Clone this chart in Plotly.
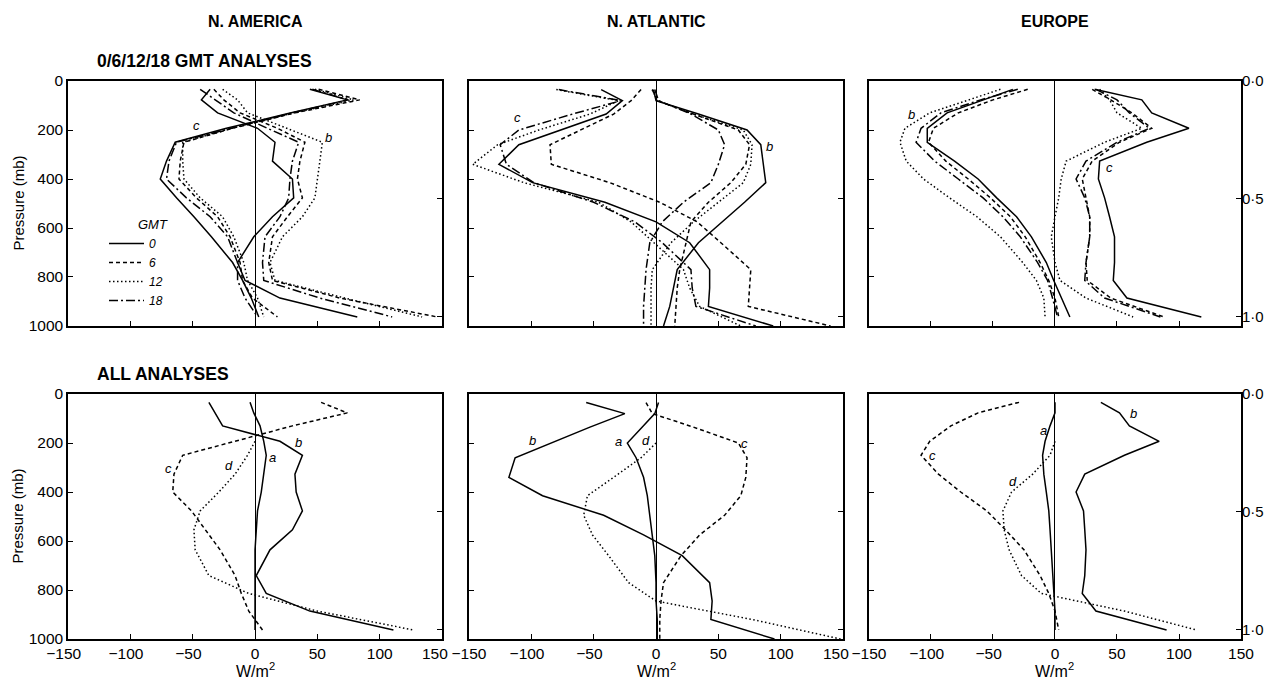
import plotly.graph_objects as go

# ---------------- data ----------------
# pressure (mb) of the model levels over land (surface ~963 mb) and ocean (~1000 mb)
P_LAND = [34, 77, 130, 193, 250, 327, 400, 477, 554, 636, 741, 814, 886, 963]
P_OCEAN = [35, 80, 135, 200, 260, 340, 415, 495, 575, 660, 770, 845, 920, 1000]

REGIONS = ["N. AMERICA", "N. ATLANTIC", "EUROPE"]
ROW_TITLES = ["0/6/12/18 GMT ANALYSES", "ALL ANALYSES"]
GMT_TIMES = ["0", "6", "12", "18"]
X_TICKS = [-150, -100, -50, 0, 50, 100, 150]
X_TICK_LABELS = ["−150", "−100", "−50", "0", "50", "100", "150"]
P_TICKS = [0, 200, 400, 600, 800, 1000]
SIGMA_TICKS = [0.0, 0.5, 1.0]
SIGMA_LABELS = ["0·0", "0·5", "1·0"]

# ---- top row: separate analysis times (curves b and c for each GMT) ----
NA_B_00 = [-36, -43, -30, 2, 16, 14, 30, 31, 14, -1, -14, -8, 20, 82]
NA_B_06 = [-33, -25, -12, 18, 40, 36, 34, 38, 26, 14, 11, 14, 68, 146]
NA_B_12 = [-26, -14, -6, 26, 54, 52, 50, 48, 38, 22, 12, 16, 72, 134]
NA_B_18 = [-44, -32, -17, 10, 35, 30, 28, 27, 20, 8, 6, 7, 52, 110]
NA_C_00 = [44, 74, 29, -23, -64, -71, -76, -63, -49, -35, -18, -10, -3, 3]
NA_C_06 = [51, 84, 32, -18, -57, -60, -61, -47, -30, -20, -12, -10, -2, 18]
NA_C_12 = [48, 79, 31, -19, -58, -58, -57, -44, -26, -17, -9, -6, 2, 7]
NA_C_18 = [46, 75, 30, -20, -63, -69, -71, -55, -36, -22, -14, -14, -8, 2]

NATL_B_00 = [-2, 0, 34, 73, 84, 86, 88, 71, 53, 34, 17, 14, 11, 6]
NATL_B_06 = [-3, 1, 30, 66, 75, 72, 60, 42, 28, 24, 19, 17, 16, 15]
NATL_B_12 = [-3, 1, 30, 70, 77, 76, 70, 50, 30, 12, -3, -4, -4, -4]
NATL_B_18 = [-1, 2, 28, 50, 55, 50, 44, 22, 5, -5, -8, -9, -10, -10]
NATL_C_00 = [-44, -27, -40, -76, -110, -126, -99, -41, 0, 27, 43, 43, 42, 94]
NATL_C_06 = [-12, -20, -34, -61, -85, -84, -37, 3, 33, 52, 76, 75, 74, 140]
NATL_C_12 = [-80, -30, -53, -94, -127, -147, -106, -46, -20, -2, 22, 27, 35, 68]
NATL_C_18 = [-78, -28, -67, -110, -125, -120, -98, -50, -17, 5, 28, 29, 32, 80]

EU_B_00 = [-34, -58, -87, -103, -103, -81, -62, -47, -31, -19, -7, -1, 5, 12]
EU_B_06 = [-22, -50, -78, -98, -102, -88, -70, -52, -36, -24, -12, -5, 0, 3]
EU_B_12 = [-44, -69, -101, -121, -125, -120, -106, -85, -63, -44, -26, -15, -9, -8]
EU_B_18 = [-30, -60, -92, -108, -112, -97, -78, -58, -42, -28, -14, -6, -2, 2]
EU_C_00 = [32, 70, 78, 108, 74, 36, 35, 40, 44, 48, 48, 47, 58, 118]
EU_C_06 = [30, 45, 62, 78, 52, 30, 22, 25, 28, 28, 25, 26, 45, 88]
EU_C_12 = [36, 44, 50, 70, 40, 9, 5, 3, 0, -3, 0, 4, 25, 63]
EU_C_18 = [33, 50, 60, 76, 50, 25, 17, 24, 28, 28, 25, 24, 40, 85]

# ---- bottom row: all analyses (curves a, b, c, d) ----
NA_ALL_A = [-4, -1, 4, 7, 9, 7, 5, 2, 1, 0, 0, 0, 0, 0]
NA_ALL_B = [-37, -32, -26, 20, 38, 32, 33, 38, 30, 12, 1, 9, 44, 111]
NA_ALL_C = [53, 74, 30, -16, -58, -65, -66, -51, -40, -28, -16, -11, -5, 6]
NA_ALL_D = [None, None, None, 0, -6, -16, -29, -44, -49, -48, -37, -5, 50, 127]

NATL_ALL_A = [2, -1, -11, -23, -16, -10, -7, -5, -3, -1, 0, 0, 1, 1]
NATL_ALL_B = [-56, -25, -53, -85, -113, -118, -91, -42, -10, 21, 43, 45, 44, 95]
NATL_ALL_C = [-8, -3, 30, 66, 73, 72, 68, 55, 35, 20, 6, 4, 3, 3]
NATL_ALL_D = [None, None, None, 0, -12, -34, -55, -58, -51, -38, -22, 0, 77, 148]

EU_ALL_A = [0, 0, -4, -8, -10, -9, -7, -5, -4, -3, -2, -1, 0, 0]
EU_ALL_B = [37, 52, 60, 84, 56, 24, 17, 23, 24, 25, 24, 22, 33, 90]
EU_ALL_C = [-29, -62, -84, -101, -108, -94, -76, -55, -40, -25, -12, -5, 0, 3]
EU_ALL_D = [None, None, None, 0, -4, -18, -35, -42, -41, -37, -27, -11, 56, 114]

# curve letter labels: (panel, letter, x value, pressure)
LABELS = [
    (0, "c", -47, 180), (0, "b", 59, 229),
    (1, "c", -111, 151), (1, "b", 91, 269),
    (2, "b", -116, 135), (2, "c", 44, 355),
    (3, "b", 35, 196), (3, "a", 14, 261), (3, "c", -69, 306), (3, "d", -21, 290),
    (4, "b", -99, 188), (4, "a", -30, 192), (4, "d", -8, 188), (4, "c", 71, 200),
    (5, "b", 63, 78), (5, "a", -9, 147), (5, "c", -99, 249), (5, "d", -34, 359),
]

# ---------------- styling ----------------
FONT = "Liberation Sans"
NBSP = "\u00a0"
DASH_GMT = {"0": "solid", "6": "4px,3px", "12": "1.5px,2.5px", "18": "9px,3px,2px,3px"}
DASH_ALL = {"a": "solid", "b": "solid", "c": "4px,3px", "d": "1.5px,2.5px"}
XDOM = [[0.0535, 0.3478], [0.3690, 0.6633], [0.6837, 0.9764]]
YDOM = [[0.5227, 0.8814], [0.0644, 0.4231]]
W, H = 1271, 683

top_series = [
    (0, P_LAND, [NA_B_00, NA_B_06, NA_B_12, NA_B_18], [NA_C_00, NA_C_06, NA_C_12, NA_C_18]),
    (1, P_OCEAN, [NATL_B_00, NATL_B_06, NATL_B_12, NATL_B_18], [NATL_C_00, NATL_C_06, NATL_C_12, NATL_C_18]),
    (2, P_LAND, [EU_B_00, EU_B_06, EU_B_12, EU_B_18], [EU_C_00, EU_C_06, EU_C_12, EU_C_18]),
]
bottom_series = [
    (3, P_LAND, {"a": NA_ALL_A, "b": NA_ALL_B, "c": NA_ALL_C, "d": NA_ALL_D}),
    (4, P_OCEAN, {"a": NATL_ALL_A, "b": NATL_ALL_B, "c": NATL_ALL_C, "d": NATL_ALL_D}),
    (5, P_LAND, {"a": EU_ALL_A, "b": EU_ALL_B, "c": EU_ALL_C, "d": EU_ALL_D}),
]

fig = go.Figure()

for k, levels, bset, cset in top_series:
    for i, gmt in enumerate(GMT_TIMES):
        for j, xs in enumerate((cset[i], bset[i])):
            fig.add_trace(go.Scatter(
                x=xs, y=levels, mode="lines",
                line=dict(color="black", width=1.5, dash=DASH_GMT[gmt]),
                xaxis=f"x{k+1}", yaxis=f"y{k+1}",
                name=gmt, legendgroup=gmt,
                showlegend=(k == 0 and j == 0),
                hoverinfo="skip",
            ))

for k, levels, curves in bottom_series:
    for letter, xs in curves.items():
        fig.add_trace(go.Scatter(
            x=xs, y=levels, mode="lines",
            line=dict(color="black", width=1.5, dash=DASH_ALL[letter]),
            xaxis=f"x{k+1}", yaxis=f"y{k+1}",
            showlegend=False, hoverinfo="skip",
        ))

# invisible helper traces so the sigma axes are drawn
for k in range(6):
    fig.add_trace(go.Scatter(x=[None], y=[None], xaxis=f"x{k+1}", yaxis=f"y{k+7}",
                             showlegend=False, hoverinfo="skip"))

layout = dict(
    width=W, height=H,
    margin=dict(l=0, r=0, t=0, b=0),
    paper_bgcolor="white", plot_bgcolor="white",
    font=dict(family=FONT, color="black", size=15),
    showlegend=True,
    legend=dict(
        x=104 / W, y=1 - 229 / H, xanchor="left", yanchor="top",
        bgcolor="rgba(0,0,0,0)", borderwidth=0,
        font=dict(family=FONT, size=12, style="italic"),
        tracegroupgap=0, itemwidth=35,
    ),
)

tick_font = dict(family=FONT, size=15.5, color="black")
sigma_font = dict(family=FONT, size=15, color="black")


def x_ticks(col):
    """Tick values/texts; the '150' at a panel join is drawn as a separate text."""
    vals, labels = [], []
    for v, t in zip(X_TICKS, X_TICK_LABELS):
        if v == 150 and col < 2:
            continue
        if v < 0 and not (v == -150 and col > 0):
            t = t + NBSP * 2
        vals.append(v)
        labels.append(t)
    return vals, labels


for k in range(6):
    r, c = divmod(k, 3)
    tv, tt = x_ticks(c)
    layout[f"xaxis{k+1}"] = dict(
        domain=XDOM[c], anchor=f"y{k+1}", range=[-150, 150],
        tickmode="array", tickvals=tv, ticktext=tt,
        ticks="inside", ticklen=5, tickwidth=1.3, tickcolor="black",
        showline=True, mirror=True, linecolor="black", linewidth=1.5,
        showgrid=False, zeroline=True, zerolinecolor="black", zerolinewidth=1.2,
        showticklabels=(r == 1), tickfont=tick_font, automargin=False,
    )
    layout[f"yaxis{k+1}"] = dict(
        domain=YDOM[r], anchor=f"x{k+1}", range=[1000, 0],
        tickmode="array", tickvals=P_TICKS,
        ticks="inside", ticklen=5, tickwidth=1.3, tickcolor="black",
        showline=True, mirror=True, linecolor="black", linewidth=1.5,
        showgrid=False, zeroline=False,
        showticklabels=(c == 0), tickfont=tick_font, automargin=False,
    )
    layout[f"yaxis{k+7}"] = dict(
        overlaying=f"y{k+1}", anchor=f"x{k+1}", side="right",
        range=[1000 / 963, 0],
        tickmode="array", tickvals=SIGMA_TICKS, ticktext=SIGMA_LABELS,
        ticks="inside", ticklen=5, tickwidth=1.3, tickcolor="black",
        showline=False, showgrid=False, zeroline=False,
        showticklabels=(c == 2), tickfont=sigma_font, automargin=False,
    )

fig.update_layout(**layout)

ann = []
for c, name in enumerate(REGIONS):
    ann.append(dict(text=name, x=sum(XDOM[c]) / 2, y=1 - 21 / H, xref="paper", yref="paper",
                    showarrow=False, xanchor="center", yanchor="middle",
                    font=dict(family=FONT, size=16, weight="bold")))
    ann.append(dict(text="W/m<sup>2</sup>", x=sum(XDOM[c]) / 2, y=1 - 670 / H, xref="paper", yref="paper",
                    showarrow=False, xanchor="center", yanchor="middle",
                    font=dict(family=FONT, size=16)))
    if c < 2:
        # right-hand '150' of a panel sitting next to the neighbour's '-150'
        ann.append(dict(text=X_TICK_LABELS[-1], x=XDOM[c][1] + 7 / W, y=1 - 653 / H,
                        xref="paper", yref="paper", showarrow=False,
                        xanchor="right", yanchor="middle", borderpad=0,
                        font=tick_font))
for r, title in enumerate(ROW_TITLES):
    ann.append(dict(text=title, x=95 / W, y=1 - (61 if r == 0 else 374) / H,
                    xref="paper", yref="paper", showarrow=False,
                    xanchor="left", yanchor="middle",
                    font=dict(family=FONT, size=17.5, weight="bold")))
    ann.append(dict(text="Pressure (mb)", x=18 / W, y=sum(YDOM[r]) / 2,
                    xref="paper", yref="paper", showarrow=False, textangle=-90,
                    xanchor="center", yanchor="middle", font=dict(family=FONT, size=15)))
ann.append(dict(text="GMT", x=153 / W, y=1 - 224 / H, xref="paper", yref="paper",
                showarrow=False, xanchor="center", yanchor="middle",
                font=dict(family=FONT, size=13, style="italic")))
for k, letter, xv, pv in LABELS:
    ann.append(dict(text=letter, x=xv, y=pv, xref=f"x{k+1}", yref=f"y{k+1}",
                    showarrow=False, xanchor="center", yanchor="middle",
                    font=dict(family=FONT, size=13, style="italic")))
fig.update_layout(annotations=ann)

fig.write_html("out.html", config={"displayModeBar": False},
               post_script="document.body.style.margin='0';")
